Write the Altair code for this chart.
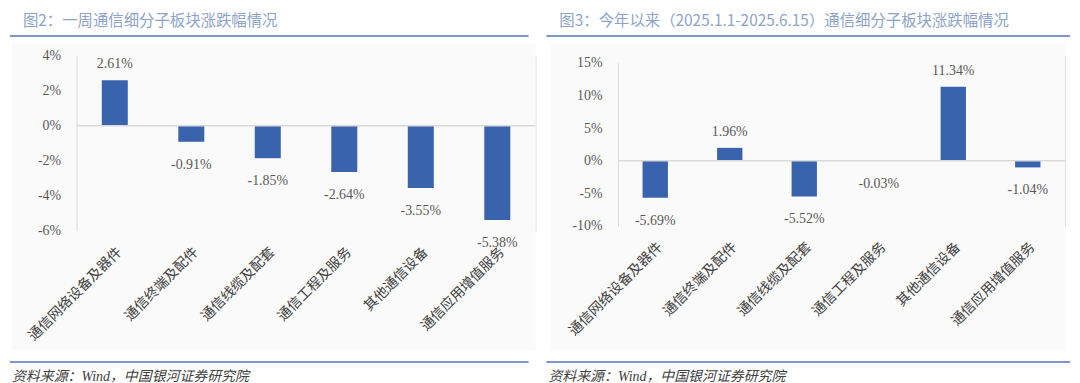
import altair as alt
import pandas as pd

categories = ["通信网络设备及器件", "通信终端及配件", "通信线缆及配套",
              "通信工程及服务", "其他通信设备", "通信应用增值服务"]
week_change = [2.61, -0.91, -1.85, -2.64, -3.55, -5.38]
ytd_change = [-5.69, 1.96, -5.52, -0.03, 11.34, -1.04]
left_title = "图2：一周通信细分子板块涨跌幅情况"
right_title = "图3：今年以来（2025.1.1-2025.6.15）通信细分子板块涨跌幅情况"
source_text = "资料来源：Wind，中国银河证券研究院"
left_ticks = [-6, -4, -2, 0, 2, 4]
right_ticks = [-10, -5, 0, 5, 10, 15]

BAR = "#3A63AE"
TXT = "#595959"
TITLE_C = "#8EA3CB"
LINE_C = "#7F97C7"
NUM_FONT = "Liberation Serif, Noto Sans CJK SC"
CJK_FONT = "Noto Sans CJK SC"


def panel(values, ticks, domain, width, height, yrange, title, lx0, lx1, bx0, bx1):
    df = pd.DataFrame({
        "cat": categories,
        "val": values,
        "label": [f"{v:.2f}%" for v in values],
    })
    one = pd.DataFrame({"k": [0]})
    yscale = alt.Scale(domain=domain, range=yrange, nice=False, zero=False)
    x = alt.X("cat:N", sort=categories, title=None,
              scale=alt.Scale(paddingInner=0.66, paddingOuter=0.33),
              axis=alt.Axis(labelAngle=-45, domain=False, ticks=False, zindex=2,
                            labelPadding=14, labelFont=NUM_FONT, labelFontSize=14,
                            labelColor="#404040", labelLimit=300, labelOverlap=False))
    yaxis = alt.Axis(values=ticks, labelExpr="datum.value + '%'", grid=False,
                     ticks=False, domainColor="#D9D9D9", labelPadding=16, zindex=2,
                     labelOverlap=False, labelFlush=False,
                     labelFont=NUM_FONT, labelFontSize=14, labelColor=TXT)
    y = alt.Y("val:Q", title=None, scale=yscale, axis=yaxis)
    bg = alt.Chart(one).mark_rect(color="#FAFAFA").encode(
        x=alt.value(bx0), x2=alt.value(bx1), y=alt.value(-13), y2=alt.value(296))
    bars = alt.Chart(df).mark_bar(color=BAR).encode(x=x, y=y)
    zero = alt.Chart(one).mark_rule(color="#D9D9D9", strokeWidth=1.5).encode(
        y=alt.Y(datum=0, axis=yaxis, title=None))
    pos = alt.Chart(df).transform_filter("datum.val >= 0").mark_text(
        font=NUM_FONT, fontSize=14, color=TXT, baseline="middle", dy=-16
    ).encode(x=x, y=y, text="label:N")
    neg = alt.Chart(df).transform_filter("datum.val < 0").mark_text(
        font=NUM_FONT, fontSize=14, color=TXT, baseline="middle", dy=23
    ).encode(x=x, y=y, text="label:N")
    ttl = alt.Chart(one).mark_text(
        text=title, font=CJK_FONT, fontSize=15.5, color=TITLE_C, align="left", baseline="middle"
    ).encode(x=alt.value(lx0 + 13), y=alt.value(-35))
    tline = alt.Chart(one).mark_rule(color=LINE_C, strokeWidth=2).encode(
        x=alt.value(lx0), x2=alt.value(lx1), y=alt.value(-20))
    bline = alt.Chart(one).mark_rule(color=LINE_C, strokeWidth=2).encode(
        x=alt.value(lx0), x2=alt.value(lx1), y=alt.value(308))
    src = alt.Chart(one).mark_text(
        text=source_text, font=NUM_FONT, fontSize=14, fontStyle="italic", color="#404040",
        align="left", baseline="middle"
    ).encode(x=alt.value(lx0 + 2), y=alt.value(323))
    return alt.layer(bg, bars, zero, pos, neg, ttl, tline, bline, src).properties(
        width=width, height=height)


left = panel(week_change, left_ticks, [-6, 4], 462, 176, [176, 0], left_title,
             -67, 455, -65, 462)
right = panel(ytd_change, right_ticks, [-10, 15], 450, 171, [171, 7], right_title,
              -72, 455, -68, 450)

chart = alt.hconcat(left, right, spacing=83, bounds="flush").resolve_scale(
    y="independent", x="independent"
).properties(padding={"left": 0, "top": 4, "right": 0, "bottom": 0}).configure_view(
    stroke=None
).configure_axis(
    labelOverlap=False, zindex=2
).configure(background="white")

chart.save("out.html", embed_options={"renderer": "svg", "actions": False})
